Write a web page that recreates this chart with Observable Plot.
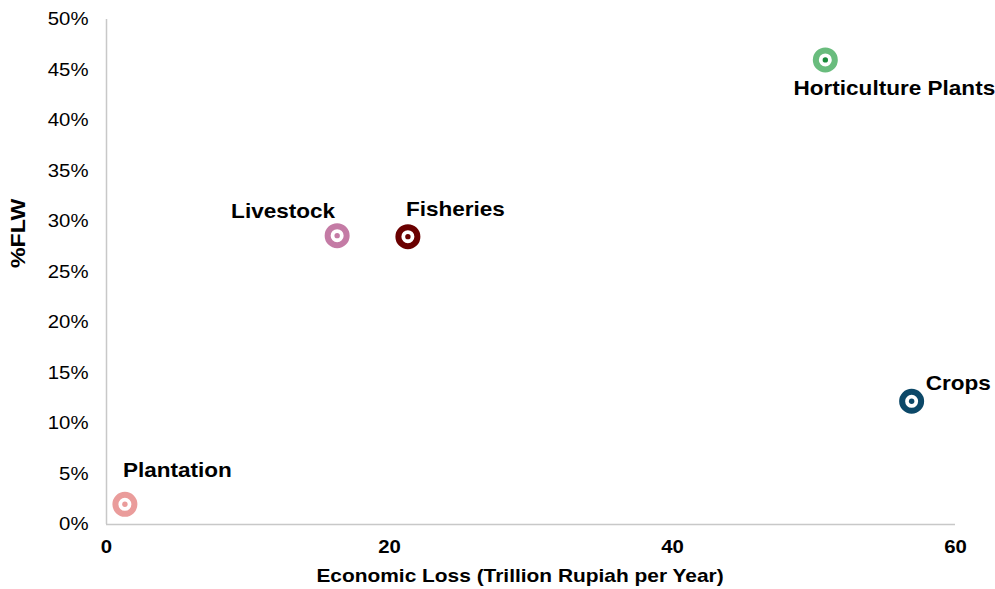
<!DOCTYPE html>
<html><head><meta charset="utf-8">
<script src="https://cdn.jsdelivr.net/npm/d3@7"></script>
<script src="https://cdn.jsdelivr.net/npm/@observablehq/plot@0.6"></script>
<style>body{margin:0;background:#fff;font-family:"Liberation Sans",Arial,sans-serif}</style>
</head><body><div id="chart"></div>
<script>
const sectors = ["Plantation", "Livestock", "Fisheries", "Horticulture Plants", "Crops"];
const economicLoss = [1.3, 16.3, 21.3, 50.8, 56.9];
const flwShare = [0.020, 0.286, 0.285, 0.460, 0.122];
const ringColors = ["#ea9c9b", "#c47ba5", "#6a0000", "#69bc7d", "#0c4868"];
const dotColors = ["#ea9c9b", "#c47ba5", "#6a0000", "#1a8a3a", "#0c4868"];
const xTicks = [0, 20, 40, 60];
const yTicks = [0, 0.05, 0.10, 0.15, 0.20, 0.25, 0.30, 0.35, 0.40, 0.45, 0.50];
const xTitle = "Economic Loss (Trillion Rupiah per Year)";
const yTitle = "%FLW";

const data = sectors.map((name, i) => ({name, x: economicLoss[i], y: flwShare[i], ring: ringColors[i], dot: dotColors[i]}));

// label placement (styling, not data)
const placement = {
  "Plantation": {anchor: "start", dx: -2, dy: -34},
  "Livestock": {anchor: "end", dx: -2, dy: -24},
  "Fisheries": {anchor: "start", dx: -2, dy: -27},
  "Horticulture Plants": {anchor: "middle", dx: 69, dy: 29},
  "Crops": {anchor: "start", dx: 14, dy: -18}
};

const labelMarks = sectors.map(name => Plot.text(data.filter(d => d.name === name), {
  x: "x", y: "y", text: "name", textAnchor: placement[name].anchor,
  dx: placement[name].dx, dy: placement[name].dy,
  fontSize: 20.5, fontWeight: "bold", fill: "#000", lineAnchor: "middle"
}));

const chart = Plot.plot({
  width: 995, height: 589,
  marginLeft: 106, marginRight: 40, marginTop: 19, marginBottom: 65,
  style: {fontFamily: "'Liberation Sans', Arial, sans-serif", background: "#fff", overflow: "visible"},
  x: {domain: [0, 60]},
  y: {domain: [0, 0.5]},
  marks: [
    Plot.ruleX([0], {stroke: "#c8c8c8", strokeWidth: 1.5}),
    Plot.ruleY([0], {stroke: "#c8c8c8", strokeWidth: 1.5}),
    Plot.axisX({ticks: xTicks, tickSize: 0, tickPadding: 15, fontSize: 18.5, fontWeight: "bold", fill: "#000", label: null, tickFormat: d => d}),
    Plot.axisY({ticks: yTicks, tickSize: 0, tickPadding: 18, fontSize: 18.5, fill: "#000", label: null, tickFormat: d => Math.round(d * 100) + "%"}),
    Plot.text([xTitle], {frameAnchor: "bottom", text: d => d, dx: -11, dy: 51, fontSize: 19, fontWeight: "bold", fill: "#000", lineAnchor: "middle"}),
    Plot.text([yTitle], {frameAnchor: "left", text: d => d, rotate: -90, dx: -88, dy: -4, fontSize: 21, fontWeight: "bold", fill: "#000", lineAnchor: "middle"}),
    Plot.dot(data, {x: "x", y: "y", r: 9.5, stroke: "ring", fill: "#fff", strokeWidth: 6}),
    Plot.dot(data, {x: "x", y: "y", r: 2.7, fill: "dot", stroke: "none"}),
    ...labelMarks
  ]
});
document.getElementById("chart").appendChild(chart);
// slight horizontal stretch of glyphs, as in the reference rendering
chart.querySelectorAll("text").forEach(t => {
  const L = t.getComputedTextLength();
  if (L > 0) {
    t.setAttribute("textLength", (L * 1.1).toFixed(2));
    t.setAttribute("lengthAdjust", "spacingAndGlyphs");
  }
});
</script></body></html>
